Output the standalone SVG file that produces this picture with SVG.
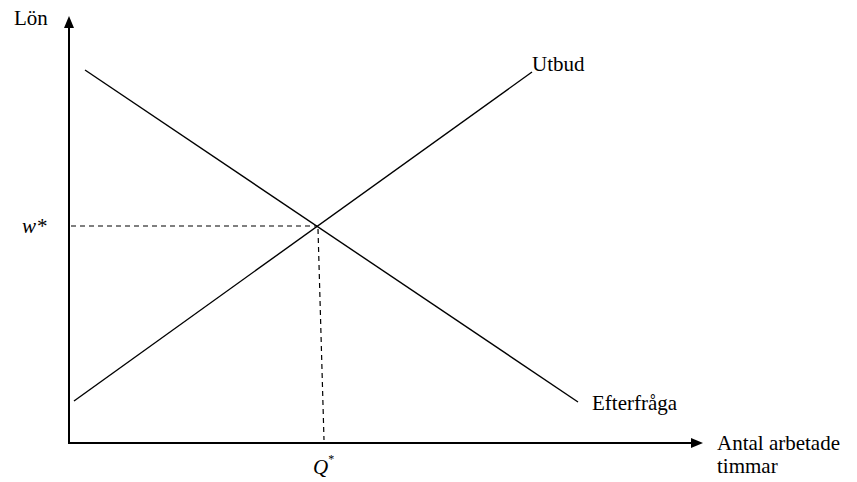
<svg xmlns="http://www.w3.org/2000/svg" width="857" height="482" viewBox="0 0 857 482">
<style>
text{font-family:"Liberation Serif","Times New Roman",serif;font-size:21px;fill:#000}
.ln{stroke:#000;stroke-width:1.4;fill:none}
.ax{stroke:#000;stroke-width:2;fill:none}
.da{stroke:#000;stroke-width:1.2;stroke-dasharray:5,4;fill:none}
</style>
<rect width="857" height="482" fill="#fff"/>
<g id="axes">
<line class="ax" x1="69" y1="444" x2="69" y2="26"/>
<polygon points="69,16 64,28 74,28" fill="#000"/>
<line class="ax" x1="68" y1="443" x2="692" y2="443"/>
<polygon points="703,443 691,438 691,448" fill="#000"/>
</g>
<g id="connectors">
<line class="ln" x1="74" y1="401" x2="532" y2="72"/>
<line class="ln" x1="85" y1="70" x2="578" y2="402"/>
<line class="da" x1="71" y1="226" x2="317" y2="226"/>
<line class="da" x1="318" y1="229" x2="324" y2="440"/>
</g>
<g id="labels">
<text x="14" y="25" font-size="19">Lön</text>
<text x="22" y="233" font-style="italic">w*</text>
<text x="313" y="474" font-style="italic">Q<tspan font-size="12" dy="-11" font-style="normal">*</tspan></text>
<text x="532" y="71">Utbud</text>
<text x="592" y="410">Efterfråga</text>
<text x="717" y="450">Antal arbetade</text>
<text x="717" y="473">timmar</text>
</g>
</svg>
